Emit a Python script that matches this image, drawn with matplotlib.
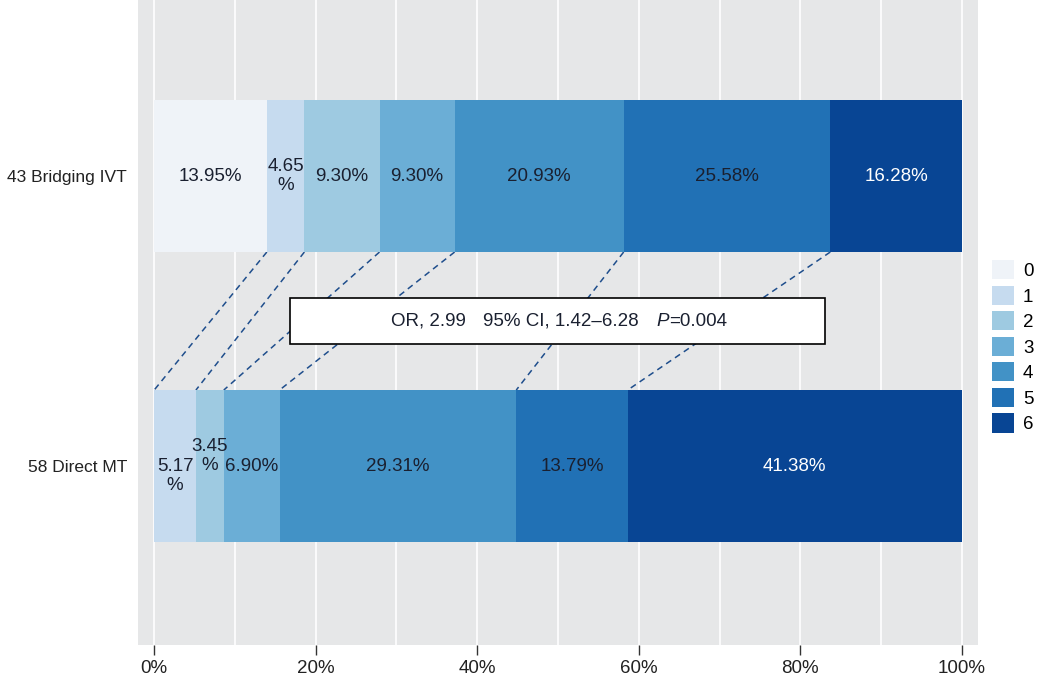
import matplotlib.pyplot as plt
import numpy as np

plt.rcParams['font.family'] = ['Liberation Sans', 'DejaVu Sans']

groups = ['58 Direct MT', '43 Bridging IVT']
scores = ['0', '1', '2', '3', '4', '5', '6']
direct_mt = [0.0, 5.17, 3.45, 6.90, 29.31, 13.79, 41.38]
bridging_ivt = [13.95, 4.65, 9.30, 9.30, 20.93, 25.58, 16.28]
colors = ['#eff3f8', '#c6dbef', '#9ecae1', '#6baed6', '#4292c6', '#2171b5', '#084594']
stats_text = ['OR, 2.99', '95% CI, 1.42\u20136.28', 'P', '=0.004']

fig = plt.figure(figsize=(10.37, 6.86), dpi=100)
ax = fig.add_axes([138/1037, 41/686, (978-138)/1037, 645/686])
ax.set_facecolor('#e6e7e8')

data = np.array([direct_mt, bridging_ivt])
bar_h = 0.524
handles = []
for j in range(len(scores)):
    left = data[:, :j].sum(axis=1)
    h = ax.barh([0, 1], data[:, j], left=left, height=bar_h, color=colors[j], zorder=2)
    handles.append(h)

# labels inside segments
offsets = {(1, 1): 0.0, (0, 1): -0.035, (0, 2): 0.035}
for i in range(2):
    for j in range(len(scores)):
        v = data[i, j]
        if v <= 0:
            continue
        left = data[i, :j].sum()
        txt = '%.2f%%' % v
        if v < 6:
            txt = '%.2f\n%%' % v
        dy = offsets.get((i, j), 0.0)
        tc = 'white' if j == 6 else '#1a2030'
        ax.text(left + v / 2, i + dy, txt, ha='center', va='center', fontsize=13.5,
                color=tc, linespacing=1.15, zorder=4)

# dashed connectors between cumulative boundaries
top_cum = np.cumsum(bridging_ivt)
bot_cum = np.cumsum(direct_mt)
for k in range(len(scores) - 1):
    ax.plot([top_cum[k], bot_cum[k]], [1 - bar_h / 2, bar_h / 2], ls=(0, (4, 3)),
            color='#1f4e8c', lw=1.1, zorder=1.5)

# stats box
box_y = 0.5
ax.add_patch(plt.Rectangle((16.85, box_y - 0.078), 83.1 - 16.85, 0.156, facecolor='white',
                           edgecolor='black', lw=1.2, zorder=5))
tc = '#1a2030'
ax.text(29.3, box_y, stats_text[0], ha='left', va='center', fontsize=13.5, zorder=6, color=tc)
ax.text(40.7, box_y, stats_text[1], ha='left', va='center', fontsize=13.5, zorder=6, color=tc)
pt = ax.text(62.2, box_y, stats_text[2], ha='left', va='center', fontsize=13.5, zorder=6,
             style='italic', color=tc)
ax.annotate(stats_text[3], xy=(1, 0.5), xycoords=pt, ha='left', va='center',
            fontsize=13.5, zorder=6, color=tc)

ax.set_xlim(-2, 102)
ax.set_ylim(-0.617, 1.607)
ax.set_xticks(np.arange(0, 101, 20))
ax.set_xticklabels(['%d%%' % t for t in range(0, 101, 20)], fontsize=13.5, color='#222222')
ax.set_xticks(np.arange(0, 101, 10), minor=True)
ax.grid(True, axis='x', which='both', color='white', lw=1.2, zorder=0)
ax.set_axisbelow(True)
ax.set_yticks([0, 1])
ax.set_yticklabels(groups, fontsize=12.5, color='#222222')
ax.tick_params(axis='y', length=0, pad=8)
ax.tick_params(axis='x', which='major', length=7, width=1, color='#333333', pad=4)
ax.tick_params(axis='x', which='minor', length=0)
for s in ax.spines.values():
    s.set_visible(False)

leg = fig.legend(handles, scores, loc='upper left', bbox_to_anchor=(992/1037, 1 - 260/686),
                 frameon=False, fontsize=13.5, handlelength=1.15, handleheight=1.2,
                 labelspacing=0.3, handletextpad=0.5, borderaxespad=0, borderpad=0)

fig.savefig('out.png', dpi=100)
